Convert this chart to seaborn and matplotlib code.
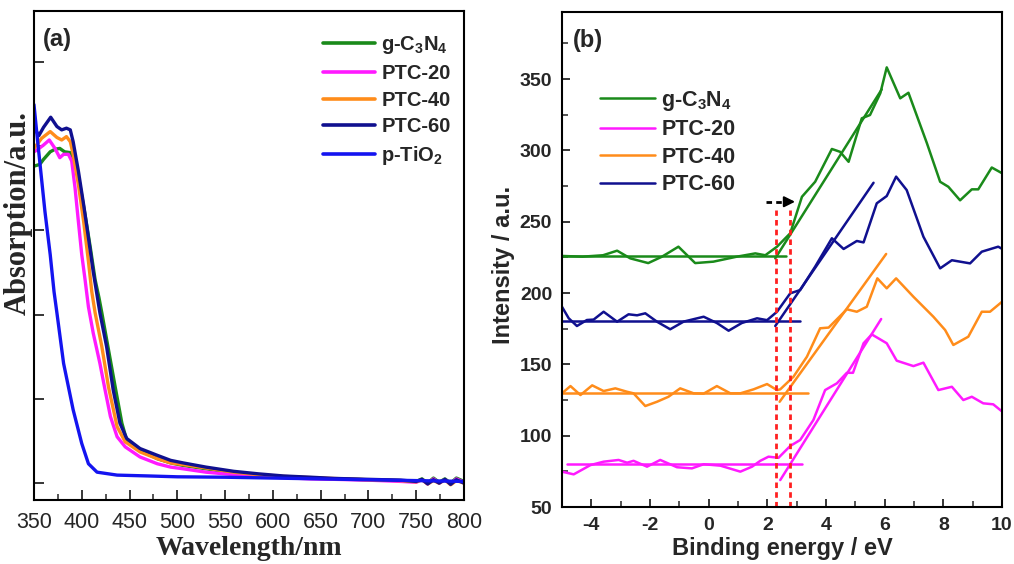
import numpy as np
import pandas as pd
import matplotlib
matplotlib.use("Agg")
import matplotlib.pyplot as plt
from matplotlib.lines import Line2D
from matplotlib.ticker import MultipleLocator
import seaborn as sns

sns.set_style("ticks")
plt.rcParams['font.family'] = ['Liberation Sans', 'DejaVu Sans']
plt.rcParams['mathtext.fontset'] = 'custom'
plt.rcParams['mathtext.bf'] = 'Liberation Sans:bold'
plt.rcParams['mathtext.rm'] = 'Liberation Sans:bold'
plt.rcParams['mathtext.default'] = 'bf'
plt.rcParams['axes.unicode_minus'] = False

# ---------------- Panel (a): UV-vis absorption ----------------
wl_gcn = [350, 356, 360, 367, 372, 377, 382, 388, 393, 398, 403.5, 409, 414, 418, 421, 428, 435, 442, 447,
          461, 479, 493, 506, 530, 559, 585, 611, 640, 664, 700, 734, 750, 756, 762, 768, 774, 780, 786, 792, 800]
abs_gcn = [3.76, 3.78, 3.84, 3.93, 3.96, 3.97, 3.93, 3.92, 3.82, 3.54, 3.18, 2.79, 2.41, 2.2, 2.02, 1.58, 1.14, 0.71, 0.51,
           0.39, 0.29, 0.24, 0.21, 0.17, 0.12, 0.09, 0.075, 0.06, 0.05, 0.04, 0.03, 0.02, 0.05, 0.0, 0.06, 0.01, 0.05, 0.0, 0.06, 0.02]

wl_p20 = [350, 353, 360, 366, 372, 377, 381, 386, 389.5, 393, 396.5, 400, 403.5, 407, 412, 419, 424.5, 430, 437, 445.5,
          461, 479, 493, 506, 530, 559, 585, 611, 640, 664, 700, 734, 750, 756, 762, 768, 774, 780, 786, 792, 800]
abs_p20 = [3.93, 3.95, 4.01, 4.07, 3.97, 3.86, 3.90, 3.90, 3.82, 3.50, 3.10, 2.71, 2.41, 2.09, 1.78, 1.42, 1.10, 0.79, 0.55, 0.43,
           0.31, 0.23, 0.19, 0.17, 0.13, 0.10, 0.08, 0.065, 0.05, 0.045, 0.035, 0.02, 0.01, 0.04, -0.01, 0.05, 0.0, 0.04, -0.01, 0.05, 0.01]

wl_p40 = [350, 358, 367, 374, 379, 384, 388, 391, 396.5, 402, 407, 410.5, 414, 421, 428, 437, 445.5,
          461, 479, 493, 506, 530, 559, 585, 611, 640, 664, 700, 734, 750, 756, 762, 768, 774, 780, 786, 792, 800]
abs_p40 = [3.97, 4.09, 4.17, 4.10, 4.07, 4.11, 4.05, 3.90, 3.54, 3.10, 2.63, 2.27, 2.02, 1.62, 1.14, 0.67, 0.49,
           0.37, 0.29, 0.24, 0.22, 0.18, 0.13, 0.10, 0.08, 0.065, 0.055, 0.04, 0.03, 0.015, 0.04, -0.01, 0.03, 0.0, 0.04, -0.02, 0.03, 0.0]

wl_p60 = [350, 355, 360, 367.5, 374, 379, 384, 388, 391, 396.5, 402, 407, 412, 416, 419, 426, 433, 440, 447,
          461, 479, 493, 506, 530, 559, 585, 611, 640, 664, 700, 734, 750, 756, 762, 768, 774, 780, 786, 792, 800]
abs_p60 = [4.23, 4.12, 4.22, 4.34, 4.23, 4.19, 4.21, 4.19, 4.05, 3.70, 3.30, 2.91, 2.51, 2.23, 2.02, 1.62, 1.10, 0.71, 0.53,
           0.41, 0.33, 0.27, 0.24, 0.19, 0.14, 0.11, 0.085, 0.07, 0.056, 0.045, 0.035, 0.02, 0.045, -0.01, 0.04, 0.0, 0.045, -0.015, 0.04, 0.0]

wl_tio2 = [350, 353, 356, 361.5, 367, 371, 374, 381, 391, 400, 407, 416, 437, 470, 500, 550, 600, 650, 700, 750, 800]
abs_tio2 = [4.49, 4.15, 3.82, 3.22, 2.71, 2.27, 2.02, 1.42, 0.87, 0.47, 0.23, 0.13, 0.095, 0.085, 0.075, 0.07, 0.06, 0.05, 0.04, 0.03, 0.02]

labels_a = ['g-C$_3$N$_4$', 'PTC-20', 'PTC-40', 'PTC-60', 'p-TiO$_2$']
colors_a = ['#1a8a1a', '#ff1aff', '#ff8c1a', '#10108f', '#1414f0']
series_a = [(wl_gcn, abs_gcn), (wl_p20, abs_p20), (wl_p40, abs_p40), (wl_p60, abs_p60), (wl_tio2, abs_tio2)]

# ---------------- Panel (b): VB XPS ----------------
be_gcn = [-5, -4.3, -3.6, -3.12, -2.67, -2.06, -1.59, -1.03, -0.46, 0.16, 0.96, 1.59, 1.93, 2.33, 2.78, 3.18, 3.63, 4.2,
          4.48, 4.77, 5.22, 5.5, 5.85, 6.07, 6.53, 6.81, 7.44, 7.89, 8.17, 8.57, 8.97, 9.19, 9.65, 10]
int_gcn = [226, 225.5, 226.5, 229.7, 224.3, 221, 225.5, 232.5, 221, 222, 225.5, 227.8, 226.5, 232.5, 241.9, 267.5, 278, 301,
           299, 292, 322.5, 324.8, 340, 358.2, 336.5, 340.4, 305, 278, 274.5, 265, 272.7, 272.7, 288, 284]

be_p20 = [-5, -4.6, -4.03, -3.58, -3.07, -2.78, -2.56, -2.1, -1.65, -1.08, -0.57, -0.17, 0.4, 1.08, 1.48, 1.76, 2.04, 2.38,
          2.78, 3.12, 3.57, 3.97, 4.37, 4.71, 4.92, 5.28, 5.56, 6.07, 6.41, 6.98, 7.32, 7.83, 8.29, 8.68, 8.97, 9.36, 9.7, 10]
int_p20 = [74.8, 72.9, 79.4, 81.8, 83, 81.1, 82.4, 78.3, 83, 77.9, 77.1, 80, 79, 74.8, 78.3, 82.4, 85.3, 84.5,
           92.8, 97, 111, 132, 136.7, 144.1, 144.1, 164.8, 171, 164.8, 152.6, 148.8, 151.2, 132, 134.3, 125, 127.3, 122.7, 122, 117]

be_p40 = [-5, -4.71, -4.37, -3.97, -3.58, -3.18, -2.78, -2.56, -2.16, -1.76, -1.37, -0.97, -0.51, -0.17, 0.28, 0.74, 1.08,
          1.53, 1.99, 2.33, 2.44, 2.89, 3.35, 3.8, 4.09, 4.71, 5.05, 5.39, 5.75, 6.07, 6.39, 6.98, 7.66, 8.06, 8.34, 8.85,
          9.31, 9.59, 10]
int_p40 = [129.7, 134.8, 128.5, 135.3, 131.3, 133.2, 130.8, 129.7, 120.8, 123.8, 127.3, 133.2, 129.7, 129.5, 134.8, 129.7, 129.7,
           132.5, 136.2, 132, 132.5, 141.3, 155.4, 175.3, 175.8, 188.6, 186.9, 190.4, 210.3, 203.3, 210.3, 197.4, 183.4, 174.1, 163.6, 169.4,
           186.9, 186.9, 193.9]

be_p60 = [-5, -4.77, -4.49, -4.15, -3.92, -3.58, -3.12, -2.73, -2.44, -2.16, -1.76, -1.31, -0.85, -0.17, 0.28, 0.68, 1.13,
          1.65, 1.99, 2.33, 2.78, 3.12, 3.63, 4.2, 4.6, 5.05, 5.28, 5.73, 6.07, 6.39, 6.75, 7.32, 7.89, 8.29, 8.91, 9.31, 9.87, 10]
int_p60 = [190.4, 182.3, 176.9, 181.1, 181.4, 186.9, 179.9, 185.1, 184.4, 185.8, 179.9, 174.6, 180, 183.4, 179, 173.6, 179,
           182.3, 181, 186.9, 199.8, 202.1, 218.5, 238.4, 230.9, 236.5, 235.5, 262.9, 268, 281.6, 272.2, 239.5, 217.3, 223, 220.8, 229, 232.5, 231]

# baselines (x from, x to, level) and linear-fit tangents (x0, y0, x1, y1)
base_x = {'gcn': (-5, 2.65), 'p20': (-4.83, 3.18), 'p40': (-5, 3.37), 'p60': (-5, 3.12)}
base_y = {'gcn': 226, 'p20': 79.9, 'p40': 130.2, 'p60': 180.3}
fit_x = {'gcn': (2.27, 5.90), 'p20': (2.44, 5.88), 'p40': (2.42, 6.05), 'p60': (2.27, 5.62)}
fit_y = {'gcn': (224.3, 342.8), 'p20': (68.9, 181.8), 'p40': (123.8, 227.4), 'p60': (176.9, 277.3)}
vb_edges = [2.29, 2.78]
edge_top = 258
arrow_x = [1.96, 3.04]
arrow_y = 264

keys_b = ['gcn', 'p20', 'p40', 'p60']
labels_b = ['g-C$_3$N$_4$', 'PTC-20', 'PTC-40', 'PTC-60']
colors_b = ['#1a8a1a', '#ff1aff', '#ff8c1a', '#10108f']
series_b = {'gcn': (be_gcn, int_gcn), 'p20': (be_p20, int_p20), 'p40': (be_p40, int_p40), 'p60': (be_p60, int_p60)}

fig = plt.figure(figsize=(10.14, 5.64), dpi=100)
ax1 = fig.add_axes([0.0335, 0.1135, 0.4241, 0.867])
ax2 = fig.add_axes([0.5542, 0.101, 0.434, 0.8777])

# --- panel a ---
for (x, y), lab, c in zip(series_a, labels_a, colors_a):
    df = pd.DataFrame({'wl': x, 'a': y})
    sns.lineplot(data=df, x='wl', y='a', ax=ax1, color=c, lw=2.4, label=lab, sort=False)
ax1.set_xlim(350, 800)
ax1.set_ylim(-0.2, 5.6)
ax1.xaxis.set_major_locator(MultipleLocator(50))
ax1.xaxis.set_minor_locator(MultipleLocator(25))
ax1.set_yticks([0, 1, 2, 3, 4, 5])
ax1.set_yticklabels([])
ax1.tick_params(axis='both', which='major', direction='in', length=7, width=1.3, labelsize=15.5, pad=9)
ax1.tick_params(axis='both', which='minor', direction='in', length=4, width=1.1)
ax1.set_xlabel('Wavelength/nm', fontsize=20, fontweight='bold', family='Liberation Serif', labelpad=2)
ax1.set_ylabel('Absorption/a.u.', fontsize=22, fontweight='bold', family='Liberation Serif')
ax1.yaxis.set_label_coords(-0.002, 0.587)
for s in ax1.spines.values():
    s.set_linewidth(1.5)
    s.set_color('black')
ax1.text(0.02, 0.965, '(a)', transform=ax1.transAxes, fontsize=17, fontweight='bold', va='top', ha='left')
h1 = [Line2D([], [], color=c, lw=2.6) for c in colors_a]
ax1.legend(h1, labels_a, loc='upper left', bbox_to_anchor=(0.672, 0.952), frameon=False, borderpad=0,
           borderaxespad=0, handlelength=2.6, handletextpad=0.3, labelspacing=0.38,
           prop={'weight': 'bold', 'size': 14.5, 'family': 'Liberation Sans'})

# --- panel b ---
for k, lab, c in zip(keys_b, labels_b, colors_b):
    x, y = series_b[k]
    df = pd.DataFrame({'be': x, 'i': y})
    sns.lineplot(data=df, x='be', y='i', ax=ax2, color=c, lw=1.8, sort=False)
    ax2.plot(list(base_x[k]), [base_y[k], base_y[k]], color=c, lw=1.8)
    ax2.plot(list(fit_x[k]), list(fit_y[k]), color=c, lw=1.8)
ax2.vlines(vb_edges, 50, edge_top, colors='#ff2020', linestyles=(0, (2.0, 1.5)), lw=2)
ax2.plot([arrow_x[0], arrow_x[1] - 0.35], [arrow_y, arrow_y], color='black', lw=2, ls=(0, (2.0, 1.5)))
ax2.annotate('', xy=(arrow_x[1], arrow_y), xytext=(arrow_x[1] - 0.45, arrow_y),
             arrowprops=dict(arrowstyle='-|>', color='black', lw=1.5, mutation_scale=16))
ax2.set_xlim(-5, 10)
ax2.set_ylim(50, 397)
ax2.xaxis.set_major_locator(MultipleLocator(2))
ax2.xaxis.set_minor_locator(MultipleLocator(1))
ax2.yaxis.set_major_locator(MultipleLocator(50))
ax2.yaxis.set_minor_locator(MultipleLocator(25))
ax2.tick_params(axis='both', which='major', direction='in', length=6, width=1.3, labelsize=14, pad=7)
ax2.tick_params(axis='both', which='minor', direction='in', length=4, width=1.1)
for lab in ax2.get_xticklabels() + ax2.get_yticklabels():
    lab.set_fontweight('bold')
ax2.set_xlabel('Binding energy / eV', fontsize=17, fontweight='bold', labelpad=2)
ax2.set_ylabel('Intensity / a.u.', fontsize=17, fontweight='bold')
ax2.yaxis.set_label_coords(-0.107, 0.489)
for s in ax2.spines.values():
    s.set_linewidth(1.5)
    s.set_color('black')
ax2.text(0.025, 0.965, '(b)', transform=ax2.transAxes, fontsize=17, fontweight='bold', va='top', ha='left')
h2 = [Line2D([], [], color=c, lw=1.8) for c in colors_b]
ax2.legend(h2, labels_b, loc='upper left', bbox_to_anchor=(0.086, 0.845), frameon=False, borderpad=0,
           borderaxespad=0, handlelength=2.55, handletextpad=0.3, labelspacing=0.3,
           prop={'weight': 'bold', 'size': 15.5, 'family': 'Liberation Sans'})

fig.savefig('out.png', dpi=100)
